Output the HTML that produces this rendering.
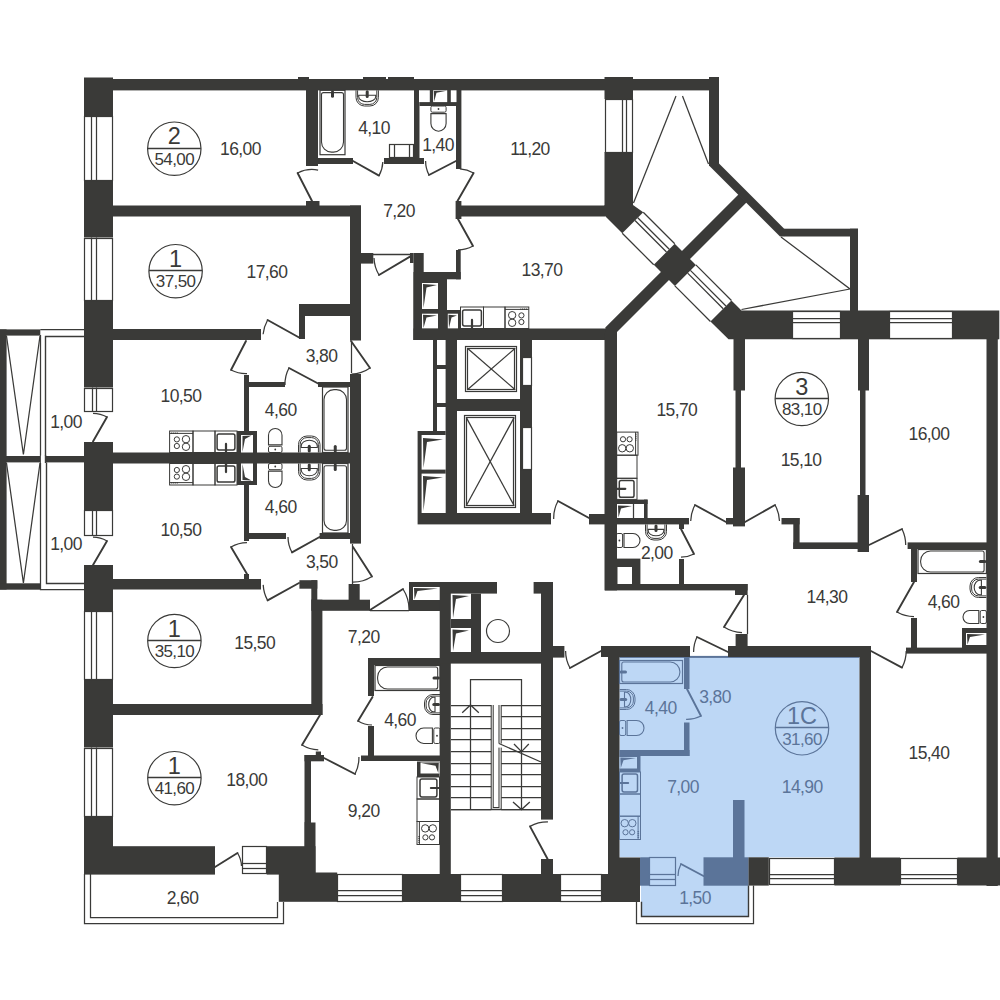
<!DOCTYPE html>
<html><head><meta charset="utf-8"><title>Floor plan</title>
<style>
html,body{margin:0;padding:0;background:#fff;}
body{width:1000px;height:1000px;overflow:hidden;}
svg{display:block;}
text{font-family:"Liberation Sans",sans-serif;}
</style></head><body>
<svg width="1000" height="1000" viewBox="0 0 1000 1000">
<rect width="1000" height="1000" fill="#fff"/>
<rect x="619.5" y="656" width="240" height="201.3" fill="#bdd7f5"/>
<rect x="641" y="857" width="107.4" height="60" fill="#bdd7f5"/>
<rect x="619.5" y="655.9" width="239.9" height="2" fill="#5b7499"/>
<rect x="84" y="77.5" width="29" height="38.5" fill="#3a3a38"/>
<rect x="84" y="180" width="29" height="57.5" fill="#3a3a38"/>
<rect x="84" y="300" width="29" height="87.5" fill="#3a3a38"/>
<rect x="84" y="442" width="29" height="68" fill="#3a3a38"/>
<rect x="84" y="565" width="29" height="46" fill="#3a3a38"/>
<rect x="84" y="679" width="29" height="68.5" fill="#3a3a38"/>
<rect x="84" y="816" width="29" height="58.6" fill="#3a3a38"/>
<rect x="84.5" y="116.5" width="28" height="64" fill="#fff" stroke="#3a3a38" stroke-width="1.2" rx="0"/>
<polyline points="91.5,116 91.5,180" fill="none" stroke="#3a3a38" stroke-width="1.25"/>
<polyline points="96.5,116 96.5,180" fill="none" stroke="#3a3a38" stroke-width="1.25"/>
<rect x="84.5" y="238.5" width="28" height="62" fill="#fff" stroke="#3a3a38" stroke-width="1.2" rx="0"/>
<polyline points="91.5,237.5 91.5,300" fill="none" stroke="#3a3a38" stroke-width="1.25"/>
<polyline points="96.5,237.5 96.5,300" fill="none" stroke="#3a3a38" stroke-width="1.25"/>
<rect x="84.5" y="611.5" width="28" height="68" fill="#fff" stroke="#3a3a38" stroke-width="1.2" rx="0"/>
<polyline points="91.5,611 91.5,679" fill="none" stroke="#3a3a38" stroke-width="1.25"/>
<polyline points="96.5,611 96.5,679" fill="none" stroke="#3a3a38" stroke-width="1.25"/>
<rect x="84.5" y="748.5" width="28" height="68" fill="#fff" stroke="#3a3a38" stroke-width="1.2" rx="0"/>
<polyline points="91.5,747.5 91.5,816" fill="none" stroke="#3a3a38" stroke-width="1.25"/>
<polyline points="96.5,747.5 96.5,816" fill="none" stroke="#3a3a38" stroke-width="1.25"/>
<rect x="84.5" y="388.5" width="28" height="23" fill="#fff" stroke="#3a3a38" stroke-width="1.2" rx="0"/>
<polyline points="92.5,387.5 92.5,411.5" fill="none" stroke="#3a3a38" stroke-width="1.25"/>
<polyline points="96.5,387.5 96.5,411.5" fill="none" stroke="#3a3a38" stroke-width="1.25"/>
<rect x="84.5" y="510.5" width="28" height="25" fill="#fff" stroke="#3a3a38" stroke-width="1.2" rx="0"/>
<polyline points="92.5,510 92.5,535.3" fill="none" stroke="#3a3a38" stroke-width="1.25"/>
<polyline points="96.5,510 96.5,535.3" fill="none" stroke="#3a3a38" stroke-width="1.25"/>
<rect x="113" y="79" width="606" height="11.4" fill="#3a3a38"/>
<rect x="604.5" y="77" width="28.5" height="22" fill="#3a3a38"/>
<rect x="298" y="77" width="11" height="2" fill="#3a3a38"/>
<rect x="363" y="77" width="23" height="2" fill="#3a3a38"/>
<rect x="388" y="77" width="26" height="2" fill="#3a3a38"/>
<rect x="604.5" y="152" width="28.5" height="54" fill="#3a3a38"/>
<rect x="605.5" y="99.5" width="27" height="53" fill="#fff" stroke="#3a3a38" stroke-width="1.2" rx="0"/>
<polyline points="622.5,99 622.5,152" fill="none" stroke="#3a3a38" stroke-width="1.25"/>
<polyline points="626.5,99 626.5,152" fill="none" stroke="#3a3a38" stroke-width="1.25"/>
<rect x="709" y="77" width="10" height="88" fill="#3a3a38"/>
<rect x="113" y="205.5" width="248" height="11" fill="#3a3a38"/>
<rect x="306" y="201" width="13.5" height="5" fill="#3a3a38"/>
<rect x="113" y="329" width="148" height="11" fill="#3a3a38"/>
<rect x="84" y="452.5" width="277" height="11" fill="#3a3a38"/>
<rect x="0" y="456" width="84" height="6.4" fill="#3a3a38"/>
<rect x="113" y="579" width="148" height="10.5" fill="#3a3a38"/>
<rect x="113" y="704" width="209.5" height="11" fill="#3a3a38"/>
<rect x="113" y="846.2" width="102" height="28.4" fill="#3a3a38"/>
<rect x="306" y="90" width="12" height="76" fill="#3a3a38"/>
<rect x="318" y="158" width="35" height="6" fill="#3a3a38"/>
<rect x="384" y="158" width="40" height="6" fill="#3a3a38"/>
<rect x="414" y="90" width="5.5" height="68" fill="#3a3a38"/>
<rect x="456" y="90" width="5.4" height="79" fill="#3a3a38"/>
<rect x="455.6" y="201" width="5.8" height="18" fill="#3a3a38"/>
<rect x="461" y="205.5" width="144" height="11" fill="#3a3a38"/>
<rect x="419.5" y="90" width="37" height="16" fill="#3a3a38"/>
<rect x="419" y="90.3" width="10.8" height="11.8" fill="#fff"/>
<rect x="433.1" y="90.3" width="14.1" height="11.8" fill="#fff"/>
<rect x="450.8" y="90.3" width="5.7" height="11.8" fill="#fff"/>
<polygon points="433.8,91 446.5,90.8 436.5,92.8 434.2,101.5" fill="#3a3a38"/>
<rect x="389.5" y="144.5" width="24" height="13" fill="#fff" stroke="#3a3a38" stroke-width="1.2" rx="0"/>
<polyline points="394.5,144.5 394.5,158" fill="none" stroke="#3a3a38" stroke-width="1.25"/>
<polyline points="409.5,144.5 409.5,158" fill="none" stroke="#3a3a38" stroke-width="1.25"/>
<rect x="350" y="205.5" width="11" height="135" fill="#3a3a38"/>
<rect x="350" y="374" width="11" height="169.6" fill="#3a3a38"/>
<rect x="361" y="253" width="12.3" height="10.6" fill="#3a3a38"/>
<rect x="410" y="253" width="3.5" height="10" fill="#3a3a38"/>
<rect x="413.5" y="253" width="10.2" height="87" fill="#3a3a38"/>
<rect x="423.7" y="272" width="37" height="7.3" fill="#3a3a38"/>
<rect x="456" y="250" width="4.7" height="29.3" fill="#3a3a38"/>
<rect x="413.5" y="272" width="33.5" height="68" fill="#3a3a38"/>
<rect x="422" y="283" width="16" height="26" fill="#fff"/>
<rect x="422" y="313.7" width="16" height="15" fill="#fff"/>
<rect x="447" y="310" width="13.5" height="19" fill="#3a3a38"/>
<rect x="447.8" y="313.7" width="10.2" height="15" fill="#fff"/>
<polygon points="423,284 437,285 426.5,287.5 423.5,308" fill="#3a3a38"/>
<polygon points="423,314.7 437,315.5 426.5,317.5 423.5,328" fill="#3a3a38"/>
<polygon points="448.5,314.7 457,315.5 451.5,317.5 449,328" fill="#3a3a38"/>
<rect x="413.5" y="328.5" width="191.5" height="11.5" fill="#3a3a38"/>
<rect x="299" y="304" width="51" height="12" fill="#3a3a38"/>
<rect x="299" y="304" width="6" height="35" fill="#3a3a38"/>
<rect x="244" y="375" width="5" height="78" fill="#3a3a38"/>
<rect x="244" y="382" width="41" height="5" fill="#3a3a38"/>
<rect x="318" y="382" width="32" height="5" fill="#3a3a38"/>
<rect x="244" y="463" width="5" height="78" fill="#3a3a38"/>
<rect x="244" y="533" width="42" height="6" fill="#3a3a38"/>
<rect x="319.6" y="533" width="30.4" height="6" fill="#3a3a38"/>
<rect x="244" y="574" width="5" height="5" fill="#3a3a38"/>
<rect x="237" y="431" width="20" height="22" fill="#3a3a38"/>
<rect x="241" y="435" width="12" height="17.5" fill="#fff"/>
<polygon points="242.5,436 251.5,435.5 245,439 242.5,452" fill="#3a3a38"/>
<rect x="237" y="463" width="20" height="22" fill="#3a3a38"/>
<rect x="241" y="463.5" width="12" height="17.5" fill="#fff"/>
<polygon points="242.5,480 251.5,480.5 245,477 242.5,464" fill="#3a3a38"/>
<rect x="433" y="340" width="4" height="91" fill="#3a3a38"/>
<rect x="437" y="365" width="9" height="4" fill="#3a3a38"/>
<rect x="437" y="403" width="9" height="4" fill="#3a3a38"/>
<rect x="445.6" y="340" width="11.4" height="173" fill="#3a3a38"/>
<rect x="457" y="399" width="63" height="12" fill="#3a3a38"/>
<rect x="520" y="340" width="12" height="173" fill="#3a3a38"/>
<rect x="522.5" y="357.5" width="9" height="28" fill="#fff" stroke="#3a3a38" stroke-width="1.2" rx="0"/>
<rect x="522.5" y="427.5" width="9" height="42" fill="#fff" stroke="#3a3a38" stroke-width="1.2" rx="0"/>
<rect x="417.6" y="513" width="133.4" height="11.4" fill="#3a3a38"/>
<rect x="417.6" y="431" width="28" height="82" fill="#3a3a38"/>
<rect x="421.6" y="435" width="24" height="34.6" fill="#fff"/>
<rect x="421.6" y="473.6" width="24" height="39.4" fill="#fff"/>
<polygon points="423,438 443,439.5 427,442 423.5,468" fill="#3a3a38"/>
<polygon points="423,476 443,477.5 427,480 423.5,511" fill="#3a3a38"/>
<rect x="465.5" y="346.5" width="51" height="45" fill="#fff" stroke="#3a3a38" stroke-width="1.2" rx="0"/>
<rect x="467.5" y="348.5" width="47" height="41" fill="#fff" stroke="#3a3a38" stroke-width="1.2" rx="0"/>
<polyline points="467.4,348.2 515.2,389.8" fill="none" stroke="#3a3a38" stroke-width="1.25"/>
<polyline points="515.2,348.2 467.4,389.8" fill="none" stroke="#3a3a38" stroke-width="1.25"/>
<rect x="464.5" y="415.5" width="51" height="92" fill="#fff" stroke="#3a3a38" stroke-width="1.2" rx="0"/>
<rect x="466.5" y="417.5" width="47" height="88" fill="#fff" stroke="#3a3a38" stroke-width="1.2" rx="0"/>
<polyline points="466.2,417.4 514.2,505.8" fill="none" stroke="#3a3a38" stroke-width="1.25"/>
<polyline points="514.2,417.4 466.2,505.8" fill="none" stroke="#3a3a38" stroke-width="1.25"/>
<rect x="589" y="514" width="16" height="10.4" fill="#3a3a38"/>
<rect x="604.5" y="329" width="12.5" height="261.4" fill="#3a3a38"/>
<polygon points="605.3,327.6 738.7,194.3 746.7,202.3 617,332 617,340 604.5,340" fill="#3a3a38"/>
<polygon points="719,163.5 784.2,228.7 784.2,236.5 780,236.5 709,165.5 709,163.5" fill="#3a3a38"/>
<rect x="784" y="228.7" width="74" height="7.8" fill="#3a3a38"/>
<rect x="850" y="228.7" width="8" height="83.3" fill="#3a3a38"/>
<polygon points="604.5,205 633,205 643.25,212.25 622.25,233.25 604.5,215.5" fill="#3a3a38"/>
<polygon points="674.75,243.75 695.9,264.9 674.9,285.9 653.75,264.75" fill="#3a3a38"/>
<polygon points="731.45,300.45 741.5,310.5 792,310.5 792,339.3 728.5,339.3 710.45,321.45" fill="#3a3a38"/>
<polyline points="643.25,212.25 674.75,243.75" fill="none" stroke="#3a3a38" stroke-width="1.25"/>
<polyline points="637.75,217.75 669.25,249.25" fill="none" stroke="#3a3a38" stroke-width="1.25"/>
<polyline points="635,220.5 666.5,252" fill="none" stroke="#3a3a38" stroke-width="1.25"/>
<polyline points="622.25,233.25 653.75,264.75" fill="none" stroke="#3a3a38" stroke-width="1.25"/>
<polyline points="695.9,264.9 731.45,300.45" fill="none" stroke="#3a3a38" stroke-width="1.25"/>
<polyline points="690.4,270.4 725.95,305.95" fill="none" stroke="#3a3a38" stroke-width="1.25"/>
<polyline points="687.65,273.15 723.2,308.7" fill="none" stroke="#3a3a38" stroke-width="1.25"/>
<polyline points="674.9,285.9 710.45,321.45" fill="none" stroke="#3a3a38" stroke-width="1.25"/>
<polyline points="633.5,203 676,96" fill="none" stroke="#3a3a38" stroke-width="1.25"/>
<polyline points="682.5,96 708.5,164" fill="none" stroke="#3a3a38" stroke-width="1.25"/>
<polyline points="781,237 850,289 741.5,309.5" fill="none" stroke="#3a3a38" stroke-width="1.25"/>
<rect x="792" y="310.5" width="207.3" height="28.8" fill="#3a3a38"/>
<rect x="792.5" y="311.5" width="48" height="27" fill="#fff" stroke="#3a3a38" stroke-width="1.2" rx="0"/>
<polyline points="792,318.5 841,318.5" fill="none" stroke="#3a3a38" stroke-width="1.25"/>
<polyline points="792,322.5 841,322.5" fill="none" stroke="#3a3a38" stroke-width="1.25"/>
<rect x="889.5" y="311.5" width="63" height="27" fill="#fff" stroke="#3a3a38" stroke-width="1.2" rx="0"/>
<polyline points="889,318.5 953,318.5" fill="none" stroke="#3a3a38" stroke-width="1.25"/>
<polyline points="889,322.5 953,322.5" fill="none" stroke="#3a3a38" stroke-width="1.25"/>
<rect x="986.5" y="339" width="11.3" height="547" fill="#3a3a38"/>
<rect x="733.5" y="339" width="11.5" height="51.5" fill="#3a3a38"/>
<rect x="735.5" y="390" width="5.5" height="78" fill="#3a3a38"/>
<rect x="733" y="467.5" width="12" height="58.9" fill="#3a3a38"/>
<rect x="858" y="339" width="11" height="51.5" fill="#3a3a38"/>
<rect x="860" y="390" width="5.5" height="105.5" fill="#3a3a38"/>
<rect x="857.6" y="495" width="11.4" height="57" fill="#3a3a38"/>
<rect x="726" y="518" width="7" height="6.4" fill="#3a3a38"/>
<rect x="781.5" y="518" width="18.1" height="6.4" fill="#3a3a38"/>
<rect x="793.3" y="518" width="6.3" height="31" fill="#3a3a38"/>
<rect x="793.3" y="542.4" width="64.7" height="6.6" fill="#3a3a38"/>
<rect x="907.6" y="542.4" width="79.4" height="6.6" fill="#3a3a38"/>
<rect x="911" y="549" width="6" height="33" fill="#3a3a38"/>
<rect x="911" y="618" width="6" height="30" fill="#3a3a38"/>
<rect x="906" y="647.6" width="81" height="6" fill="#3a3a38"/>
<rect x="962" y="628" width="25" height="20" fill="#3a3a38"/>
<rect x="966" y="633" width="20.4" height="12" fill="#fff"/>
<polygon points="967,634 985,634.5 970,637 967.5,644.5" fill="#3a3a38"/>
<rect x="616.4" y="518" width="72.6" height="6.4" fill="#3a3a38"/>
<rect x="679" y="524" width="5" height="5" fill="#3a3a38"/>
<rect x="616.4" y="499.6" width="31.2" height="4.4" fill="#3a3a38"/>
<rect x="644" y="499.6" width="3.6" height="18.4" fill="#3a3a38"/>
<polyline points="633.5,504 633.5,518" fill="none" stroke="#3a3a38" stroke-width="1.25"/>
<polygon points="618,505.5 632,506 621,508.5 618.5,517.5" fill="#3a3a38"/>
<rect x="679" y="559" width="5" height="26" fill="#3a3a38"/>
<rect x="616.4" y="558.6" width="24" height="26.4" fill="#3a3a38"/>
<rect x="617.5" y="567" width="14.5" height="17" fill="#fff"/>
<rect x="605" y="584" width="142.6" height="6.4" fill="#3a3a38"/>
<rect x="735" y="584" width="12.6" height="11" fill="#3a3a38"/>
<polyline points="747.5,595 747.5,634" fill="none" stroke="#3a3a38" stroke-width="1.25"/>
<rect x="735.6" y="634" width="12" height="13" fill="#3a3a38"/>
<rect x="601" y="646" width="89" height="11" fill="#3a3a38"/>
<rect x="728" y="646" width="143" height="11" fill="#3a3a38"/>
<rect x="608" y="657" width="11.5" height="217" fill="#3a3a38"/>
<rect x="859.5" y="646" width="11.5" height="212" fill="#3a3a38"/>
<rect x="553" y="646" width="11.4" height="11.6" fill="#3a3a38"/>
<rect x="409" y="582" width="31" height="29" fill="#3a3a38"/>
<rect x="413" y="587" width="27" height="13" fill="#fff"/>
<polygon points="414,588 438,588.5 417.5,591 414.5,599.5" fill="#3a3a38"/>
<rect x="439.7" y="582" width="11.1" height="292" fill="#3a3a38"/>
<rect x="440" y="582" width="57" height="11.6" fill="#3a3a38"/>
<rect x="471" y="593.6" width="10" height="58.4" fill="#3a3a38"/>
<rect x="451" y="619" width="20" height="9" fill="#3a3a38"/>
<polygon points="452.5,595 469,596 456,599 453,618" fill="#3a3a38"/>
<polygon points="452.5,629.5 469,630.5 456,633.5 453,651" fill="#3a3a38"/>
<rect x="440" y="652" width="113" height="11.6" fill="#3a3a38"/>
<rect x="541" y="582" width="12" height="237.6" fill="#3a3a38"/>
<rect x="533.6" y="582" width="19.4" height="11.6" fill="#3a3a38"/>
<rect x="541" y="859" width="12" height="15" fill="#3a3a38"/>
<circle cx="498" cy="631" r="11.5" fill="none" stroke="#3a3a38" stroke-width="1.2"/>
<polyline points="451,705.5 491.2,705.5" fill="none" stroke="#3a3a38" stroke-width="1.25"/>
<polyline points="501.2,705.5 541,705.5" fill="none" stroke="#3a3a38" stroke-width="1.25"/>
<polyline points="451,716.5 491.2,716.5" fill="none" stroke="#3a3a38" stroke-width="1.25"/>
<polyline points="501.2,716.5 541,716.5" fill="none" stroke="#3a3a38" stroke-width="1.25"/>
<polyline points="451,728.5 491.2,728.5" fill="none" stroke="#3a3a38" stroke-width="1.25"/>
<polyline points="501.2,728.5 541,728.5" fill="none" stroke="#3a3a38" stroke-width="1.25"/>
<polyline points="451,739.5 491.2,739.5" fill="none" stroke="#3a3a38" stroke-width="1.25"/>
<polyline points="501.2,739.5 541,739.5" fill="none" stroke="#3a3a38" stroke-width="1.25"/>
<polyline points="451,751.5 491.2,751.5" fill="none" stroke="#3a3a38" stroke-width="1.25"/>
<polyline points="501.2,751.5 541,751.5" fill="none" stroke="#3a3a38" stroke-width="1.25"/>
<polyline points="451,763.5 491.2,763.5" fill="none" stroke="#3a3a38" stroke-width="1.25"/>
<polyline points="501.2,763.5 541,763.5" fill="none" stroke="#3a3a38" stroke-width="1.25"/>
<polyline points="451,774.5 491.2,774.5" fill="none" stroke="#3a3a38" stroke-width="1.25"/>
<polyline points="501.2,774.5 541,774.5" fill="none" stroke="#3a3a38" stroke-width="1.25"/>
<polyline points="451,786.5 491.2,786.5" fill="none" stroke="#3a3a38" stroke-width="1.25"/>
<polyline points="501.2,786.5 541,786.5" fill="none" stroke="#3a3a38" stroke-width="1.25"/>
<polyline points="451,797.5 491.2,797.5" fill="none" stroke="#3a3a38" stroke-width="1.25"/>
<polyline points="501.2,797.5 541,797.5" fill="none" stroke="#3a3a38" stroke-width="1.25"/>
<polyline points="451,809.5 491.2,809.5" fill="none" stroke="#3a3a38" stroke-width="1.25"/>
<polyline points="501.2,809.5 541,809.5" fill="none" stroke="#3a3a38" stroke-width="1.25"/>
<polyline points="451,809.5 541,809.5" fill="none" stroke="#3a3a38" stroke-width="1.25"/>
<polyline points="470.5,809.6 470.5,679.5 521.5,679.5 521.5,809.6" fill="none" stroke="#3a3a38" stroke-width="1.25"/>
<path d="M491.2,705 V809.3 H501.2 V705 M493.2,705 V807.4 H499 V705" fill="none" stroke="#3a3a38" stroke-width="1.05"/>
<rect x="497.5" y="743.6" width="4.7" height="4" fill="#fff"/>
<polyline points="499,743.5 541,762" fill="none" stroke="#3a3a38" stroke-width="1.25"/>
<polyline points="462.2,712.8 470.5,705 478.8,712.8" fill="none" stroke="#3a3a38" stroke-width="1.3"/>
<polyline points="514,744 521.5,751.6 528.8,744" fill="none" stroke="#3a3a38" stroke-width="1.3"/>
<polyline points="513,802 521.5,809.6 529.8,802" fill="none" stroke="#3a3a38" stroke-width="1.3"/>
<rect x="299.4" y="580.2" width="17.9" height="8.5" fill="#3a3a38"/>
<rect x="311.3" y="580.2" width="6" height="19.8" fill="#3a3a38"/>
<rect x="311.3" y="599.7" width="11.1" height="115.3" fill="#3a3a38"/>
<rect x="311.3" y="599.7" width="58.7" height="11.1" fill="#3a3a38"/>
<rect x="348.6" y="584" width="11.1" height="16.5" fill="#3a3a38"/>
<polyline points="370,610.5 409,610.5" fill="none" stroke="#3a3a38" stroke-width="1.25"/>
<rect x="368" y="658" width="72" height="7" fill="#3a3a38"/>
<rect x="368" y="658" width="6" height="38" fill="#3a3a38"/>
<rect x="368" y="726" width="6" height="30" fill="#3a3a38"/>
<rect x="361" y="755.5" width="79" height="5.5" fill="#3a3a38"/>
<rect x="304.5" y="755" width="19.5" height="6.3" fill="#3a3a38"/>
<rect x="315.8" y="751.5" width="5.2" height="4.5" fill="#3a3a38"/>
<rect x="304.5" y="755" width="6.5" height="68" fill="#3a3a38"/>
<rect x="304.3" y="822.5" width="11.2" height="50.5" fill="#3a3a38"/>
<rect x="266.7" y="846.2" width="48.8" height="28.4" fill="#3a3a38"/>
<rect x="278.8" y="872.5" width="58.4" height="29.3" fill="#3a3a38"/>
<rect x="402.5" y="874" width="58" height="28" fill="#3a3a38"/>
<rect x="502.5" y="874" width="57.5" height="28" fill="#3a3a38"/>
<rect x="602" y="874" width="38" height="28" fill="#3a3a38"/>
<rect x="619" y="857.5" width="21" height="44.5" fill="#3a3a38"/>
<rect x="337.5" y="874.5" width="65" height="27" fill="#fff" stroke="#3a3a38" stroke-width="1.2" rx="0"/>
<polyline points="337,890.5 402.5,890.5" fill="none" stroke="#3a3a38" stroke-width="1.25"/>
<polyline points="337,895.5 402.5,895.5" fill="none" stroke="#3a3a38" stroke-width="1.25"/>
<rect x="460.5" y="874.5" width="42" height="27" fill="#fff" stroke="#3a3a38" stroke-width="1.2" rx="0"/>
<polyline points="460.5,890.5 502.5,890.5" fill="none" stroke="#3a3a38" stroke-width="1.25"/>
<polyline points="460.5,895.5 502.5,895.5" fill="none" stroke="#3a3a38" stroke-width="1.25"/>
<rect x="560.5" y="874.5" width="41" height="27" fill="#fff" stroke="#3a3a38" stroke-width="1.2" rx="0"/>
<polyline points="560,890.5 602,890.5" fill="none" stroke="#3a3a38" stroke-width="1.25"/>
<polyline points="560,895.5 602,895.5" fill="none" stroke="#3a3a38" stroke-width="1.25"/>
<rect x="748.3" y="857.3" width="20.5" height="28.3" fill="#3a3a38"/>
<rect x="834.5" y="857.5" width="65.5" height="28" fill="#3a3a38"/>
<rect x="957.5" y="857.5" width="42.5" height="28" fill="#3a3a38"/>
<rect x="769.5" y="858.5" width="65" height="26" fill="#fff" stroke="#3a3a38" stroke-width="1.2" rx="0"/>
<polyline points="769,874.5 834.5,874.5" fill="none" stroke="#3a3a38" stroke-width="1.25"/>
<polyline points="769,878.5 834.5,878.5" fill="none" stroke="#3a3a38" stroke-width="1.25"/>
<rect x="900.5" y="858.5" width="57" height="26" fill="#fff" stroke="#3a3a38" stroke-width="1.2" rx="0"/>
<polyline points="900,874.5 957.5,874.5" fill="none" stroke="#3a3a38" stroke-width="1.25"/>
<polyline points="900,878.5 957.5,878.5" fill="none" stroke="#3a3a38" stroke-width="1.25"/>
<rect x="684" y="657" width="5.5" height="32" fill="#5b7499"/>
<rect x="684" y="722.5" width="5.5" height="33.5" fill="#5b7499"/>
<rect x="619.5" y="750" width="70" height="6" fill="#5b7499"/>
<rect x="640" y="857.3" width="9.6" height="28.4" fill="#5b7499"/>
<rect x="703.5" y="857.3" width="44.8" height="28.4" fill="#5b7499"/>
<rect x="733" y="800" width="11.5" height="58" fill="#5b7499"/>
<rect x="649.5" y="857.5" width="26" height="28" fill="#bdd7f5" stroke="#5b7499" stroke-width="1.2" rx="0"/>
<polyline points="649.5,874.5 676,874.5" fill="none" stroke="#5b7499" stroke-width="1.25"/>
<polyline points="649.5,879.5 676,879.5" fill="none" stroke="#5b7499" stroke-width="1.25"/>
<rect x="0" y="329.4" width="6.6" height="260.1" fill="#3a3a38"/>
<rect x="0" y="329.4" width="40.3" height="6.2" fill="#3a3a38"/>
<rect x="0" y="583.3" width="40.3" height="6.4" fill="#3a3a38"/>
<polyline points="40.5,335 40.5,589.5 84.5,589.5" fill="none" stroke="#3a3a38" stroke-width="1.25"/>
<polyline points="40.3,329.5 84.5,329.5" fill="none" stroke="#3a3a38" stroke-width="1.25"/>
<polyline points="84.5,336.5 45.5,336.5 45.5,456" fill="none" stroke="#3a3a38" stroke-width="1.4"/>
<polyline points="46.5,462.4 46.5,583.5 84.5,583.5" fill="none" stroke="#3a3a38" stroke-width="1.4"/>
<rect x="40.9" y="455.5" width="4.5" height="7.5" fill="#fff"/>
<polyline points="45.5,455 45.5,463" fill="none" stroke="#3a3a38" stroke-width="1.4"/>
<polyline points="6.5,336 23.4,454.5 40,336" fill="none" stroke="#3a3a38" stroke-width="1.25"/>
<polyline points="6.5,463 23.4,583 40,463" fill="none" stroke="#3a3a38" stroke-width="1.25"/>
<polyline points="84.5,874 84.5,923.5 283.5,923.5 283.5,902" fill="none" stroke="#3a3a38" stroke-width="1.25"/>
<polyline points="90.5,874 90.5,917.5 277.5,917.5 277.5,902" fill="none" stroke="#3a3a38" stroke-width="1.25"/>
<polyline points="636.5,901.8 636.5,923.5 753.5,923.5 753.5,885.6" fill="none" stroke="#3a3a38" stroke-width="1.25"/>
<polyline points="641.5,901.8 641.5,916.5 748.5,916.5 748.5,885.6" fill="none" stroke="#3a3a38" stroke-width="1.4"/>
<path d="M93,441.5 L107,417" stroke="#3a3a38" stroke-width="1.9" fill="none" stroke-linecap="round"/>
<path d="M107,417 A28.2,28.2 0 0 0 93.0,413.3" stroke="#3a3a38" stroke-width="1.25" fill="none"/>
<path d="M93,565 L107,541" stroke="#3a3a38" stroke-width="1.9" fill="none" stroke-linecap="round"/>
<path d="M107,541 A27.8,27.8 0 0 0 93.0,537.2" stroke="#3a3a38" stroke-width="1.25" fill="none"/>
<path d="M312,201 L297.6,173" stroke="#3a3a38" stroke-width="1.9" fill="none" stroke-linecap="round"/>
<path d="M297.6,173 A31.5,31.5 0 0 1 318.1,170.1" stroke="#3a3a38" stroke-width="1.25" fill="none"/>
<path d="M353,161 L379,175.6" stroke="#3a3a38" stroke-width="1.9" fill="none" stroke-linecap="round"/>
<path d="M379,175.6 A29.8,29.8 0 0 0 382.8,162.0" stroke="#3a3a38" stroke-width="1.25" fill="none"/>
<path d="M456,161 L429,175" stroke="#3a3a38" stroke-width="1.9" fill="none" stroke-linecap="round"/>
<path d="M429,175 A30.4,30.4 0 0 1 425.6,161.0" stroke="#3a3a38" stroke-width="1.25" fill="none"/>
<path d="M457.5,201 L473.6,173" stroke="#3a3a38" stroke-width="1.9" fill="none" stroke-linecap="round"/>
<path d="M473.6,173 A32.3,32.3 0 0 0 459.9,168.8" stroke="#3a3a38" stroke-width="1.25" fill="none"/>
<path d="M458,219 L473,246" stroke="#3a3a38" stroke-width="1.9" fill="none" stroke-linecap="round"/>
<path d="M473,246 A30.9,30.9 0 0 1 458.0,249.9" stroke="#3a3a38" stroke-width="1.25" fill="none"/>
<polyline points="373,254.5 410,254.5" fill="none" stroke="#3a3a38" stroke-width="1.4"/>
<path d="M410,256.6 L379,275" stroke="#3a3a38" stroke-width="1.9" fill="none" stroke-linecap="round"/>
<path d="M379,275 A36.0,36.0 0 0 1 374.0,258.0" stroke="#3a3a38" stroke-width="1.25" fill="none"/>
<path d="M300,338 L267.6,320" stroke="#3a3a38" stroke-width="1.9" fill="none" stroke-linecap="round"/>
<path d="M267.6,320 A37.1,37.1 0 0 0 263.1,334.2" stroke="#3a3a38" stroke-width="1.25" fill="none"/>
<path d="M246,341 L231,370" stroke="#3a3a38" stroke-width="1.9" fill="none" stroke-linecap="round"/>
<path d="M231,370 A32.6,32.6 0 0 0 247.0,373.6" stroke="#3a3a38" stroke-width="1.25" fill="none"/>
<path d="M319,384 L289,368" stroke="#3a3a38" stroke-width="1.9" fill="none" stroke-linecap="round"/>
<path d="M289,368 A34.0,34.0 0 0 0 285.0,385.0" stroke="#3a3a38" stroke-width="1.25" fill="none"/>
<path d="M351,341 L370,368" stroke="#3a3a38" stroke-width="1.9" fill="none" stroke-linecap="round"/>
<path d="M370,368 A33.0,33.0 0 0 1 351.5,374.0" stroke="#3a3a38" stroke-width="1.25" fill="none"/>
<polyline points="351.5,341 351.5,373" fill="none" stroke="#3a3a38" stroke-width="1.25"/>
<path d="M247,574 L231,547" stroke="#3a3a38" stroke-width="1.9" fill="none" stroke-linecap="round"/>
<path d="M231,547 A31.4,31.4 0 0 1 247.0,542.6" stroke="#3a3a38" stroke-width="1.25" fill="none"/>
<path d="M319.6,537 L292,552.4" stroke="#3a3a38" stroke-width="1.9" fill="none" stroke-linecap="round"/>
<path d="M292,552.4 A31.6,31.6 0 0 1 288.0,537.0" stroke="#3a3a38" stroke-width="1.25" fill="none"/>
<path d="M299,583 L267.6,600.4" stroke="#3a3a38" stroke-width="1.9" fill="none" stroke-linecap="round"/>
<path d="M267.6,600.4 A35.9,35.9 0 0 1 263.2,584.9" stroke="#3a3a38" stroke-width="1.25" fill="none"/>
<polyline points="352.5,544 352.5,584" fill="none" stroke="#3a3a38" stroke-width="1.25"/>
<path d="M353,547 L372,576.4" stroke="#3a3a38" stroke-width="1.9" fill="none" stroke-linecap="round"/>
<path d="M372,576.4 A35.0,35.0 0 0 1 352.0,582.0" stroke="#3a3a38" stroke-width="1.25" fill="none"/>
<path d="M370,610 L403,589" stroke="#3a3a38" stroke-width="1.9" fill="none" stroke-linecap="round"/>
<path d="M403,589 A39.1,39.1 0 0 1 409.1,610.0" stroke="#3a3a38" stroke-width="1.25" fill="none"/>
<path d="M589,518 L558,501" stroke="#3a3a38" stroke-width="1.9" fill="none" stroke-linecap="round"/>
<path d="M558,501 A35.4,35.4 0 0 0 553.7,518.9" stroke="#3a3a38" stroke-width="1.25" fill="none"/>
<path d="M726,522 L695,505" stroke="#3a3a38" stroke-width="1.9" fill="none" stroke-linecap="round"/>
<path d="M695,505 A35.4,35.4 0 0 0 690.7,521.0" stroke="#3a3a38" stroke-width="1.25" fill="none"/>
<path d="M745,522 L775,505" stroke="#3a3a38" stroke-width="1.9" fill="none" stroke-linecap="round"/>
<path d="M775,505 A34.5,34.5 0 0 1 779.5,521.1" stroke="#3a3a38" stroke-width="1.25" fill="none"/>
<path d="M869,545 L902,529" stroke="#3a3a38" stroke-width="1.9" fill="none" stroke-linecap="round"/>
<path d="M902,529 A36.7,36.7 0 0 1 905.7,545.0" stroke="#3a3a38" stroke-width="1.25" fill="none"/>
<path d="M914,582 L897,612" stroke="#3a3a38" stroke-width="1.9" fill="none" stroke-linecap="round"/>
<path d="M897,612 A34.5,34.5 0 0 0 914.0,616.5" stroke="#3a3a38" stroke-width="1.25" fill="none"/>
<path d="M871,651 L902,667.6" stroke="#3a3a38" stroke-width="1.9" fill="none" stroke-linecap="round"/>
<path d="M902,667.6 A35.2,35.2 0 0 0 906.2,651.0" stroke="#3a3a38" stroke-width="1.25" fill="none"/>
<path d="M681,529 L694,554" stroke="#3a3a38" stroke-width="1.9" fill="none" stroke-linecap="round"/>
<path d="M694,554 A28.2,28.2 0 0 1 681.0,557.2" stroke="#3a3a38" stroke-width="1.25" fill="none"/>
<path d="M744,595 L724,627" stroke="#3a3a38" stroke-width="1.9" fill="none" stroke-linecap="round"/>
<path d="M724,627 A37.7,37.7 0 0 0 742.0,632.7" stroke="#3a3a38" stroke-width="1.25" fill="none"/>
<path d="M728,652 L697,637" stroke="#3a3a38" stroke-width="1.9" fill="none" stroke-linecap="round"/>
<path d="M697,637 A34.4,34.4 0 0 0 693.6,652.0" stroke="#3a3a38" stroke-width="1.25" fill="none"/>
<path d="M601,651 L570,668" stroke="#3a3a38" stroke-width="1.9" fill="none" stroke-linecap="round"/>
<path d="M570,668 A35.4,35.4 0 0 1 565.6,651.0" stroke="#3a3a38" stroke-width="1.25" fill="none"/>
<path d="M547.6,859 L530,826.4" stroke="#3a3a38" stroke-width="1.9" fill="none" stroke-linecap="round"/>
<path d="M530,826.4 A37.0,37.0 0 0 1 548.0,822.0" stroke="#3a3a38" stroke-width="1.25" fill="none"/>
<path d="M372.5,697 L358,721" stroke="#3a3a38" stroke-width="1.9" fill="none" stroke-linecap="round"/>
<path d="M358,721 A28.0,28.0 0 0 0 372.0,725.0" stroke="#3a3a38" stroke-width="1.25" fill="none"/>
<path d="M320,715 L302,745" stroke="#3a3a38" stroke-width="1.9" fill="none" stroke-linecap="round"/>
<path d="M302,745 A35.0,35.0 0 0 0 318.3,749.9" stroke="#3a3a38" stroke-width="1.25" fill="none"/>
<path d="M324,758 L355,774" stroke="#3a3a38" stroke-width="1.9" fill="none" stroke-linecap="round"/>
<path d="M355,774 A34.9,34.9 0 0 0 358.9,757.1" stroke="#3a3a38" stroke-width="1.25" fill="none"/>
<path d="M215,867 L237.5,853" stroke="#3a3a38" stroke-width="1.9" fill="none" stroke-linecap="round"/>
<path d="M237.5,853 A26.5,26.5 0 0 1 241.5,866.0" stroke="#3a3a38" stroke-width="1.25" fill="none"/>
<path d="M687,689 L701,716" stroke="#5b7499" stroke-width="1.9" fill="none" stroke-linecap="round"/>
<path d="M701,716 A30.4,30.4 0 0 1 686.1,719.4" stroke="#5b7499" stroke-width="1.25" fill="none"/>
<path d="M703.5,876 L681,864" stroke="#5b7499" stroke-width="1.9" fill="none" stroke-linecap="round"/>
<path d="M681,864 A25.5,25.5 0 0 0 678.0,876.0" stroke="#5b7499" stroke-width="1.25" fill="none"/>
<rect x="242.5" y="846.5" width="24" height="27" fill="#fff" stroke="#3a3a38" stroke-width="1.2" rx="0"/>
<polyline points="242.5,863.5 266.75,863.5" fill="none" stroke="#3a3a38" stroke-width="1.25"/>
<polyline points="242.5,868.5 266.75,868.5" fill="none" stroke="#3a3a38" stroke-width="1.25"/>
<circle cx="174.3" cy="148.7" r="26.7" fill="none" stroke="#3a3a38" stroke-width="1.2"/>
<polyline points="147.7,148.5 200.9,148.5" fill="none" stroke="#3a3a38" stroke-width="1.5"/>
<text x="174.3" y="144.3" font-size="23.5" fill="#3a3a38" text-anchor="middle">2</text>
<text x="174.3" y="164.9" font-size="17" fill="#3a3a38" text-anchor="middle" letter-spacing="-0.6">54,00</text>
<circle cx="175.6" cy="271.2" r="26.7" fill="none" stroke="#3a3a38" stroke-width="1.2"/>
<polyline points="149,270.5 202.2,270.5" fill="none" stroke="#3a3a38" stroke-width="1.5"/>
<text x="175.6" y="266.8" font-size="23.5" fill="#3a3a38" text-anchor="middle">1</text>
<text x="175.6" y="287.4" font-size="17" fill="#3a3a38" text-anchor="middle" letter-spacing="-0.6">37,50</text>
<circle cx="174.4" cy="641" r="26.7" fill="none" stroke="#3a3a38" stroke-width="1.2"/>
<polyline points="147.8,640.5 201,640.5" fill="none" stroke="#3a3a38" stroke-width="1.5"/>
<text x="174.4" y="636.6" font-size="23.5" fill="#3a3a38" text-anchor="middle">1</text>
<text x="174.4" y="657.2" font-size="17" fill="#3a3a38" text-anchor="middle" letter-spacing="-0.6">35,10</text>
<circle cx="174.4" cy="778.2" r="26.7" fill="none" stroke="#3a3a38" stroke-width="1.2"/>
<polyline points="147.8,777.5 201,777.5" fill="none" stroke="#3a3a38" stroke-width="1.5"/>
<text x="174.4" y="773.8" font-size="23.5" fill="#3a3a38" text-anchor="middle">1</text>
<text x="174.4" y="794.4" font-size="17" fill="#3a3a38" text-anchor="middle" letter-spacing="-0.6">41,60</text>
<circle cx="801.8" cy="399" r="26.7" fill="none" stroke="#3a3a38" stroke-width="1.2"/>
<polyline points="775.2,398.5 828.4,398.5" fill="none" stroke="#3a3a38" stroke-width="1.5"/>
<text x="801.8" y="394.6" font-size="23.5" fill="#3a3a38" text-anchor="middle">3</text>
<text x="801.8" y="415.2" font-size="17" fill="#3a3a38" text-anchor="middle" letter-spacing="-0.6">83,10</text>
<circle cx="802" cy="728.3" r="26.7" fill="none" stroke="#5b7499" stroke-width="1.2"/>
<polyline points="775.4,727.5 828.6,727.5" fill="none" stroke="#5b7499" stroke-width="1.5"/>
<text x="802" y="723.9" font-size="23.5" fill="#5b7499" text-anchor="middle">1C</text>
<text x="802" y="744.5" font-size="17" fill="#5b7499" text-anchor="middle" letter-spacing="-0.6">31,60</text>
<text x="240.5" y="154.5" font-size="17.5" fill="#3a3a38" text-anchor="middle" letter-spacing="-0.6">16,00</text>
<text x="374" y="134" font-size="17.5" fill="#3a3a38" text-anchor="middle" letter-spacing="-0.6">4,10</text>
<text x="438" y="151" font-size="17.5" fill="#3a3a38" text-anchor="middle" letter-spacing="-0.6">1,40</text>
<text x="530" y="155" font-size="17.5" fill="#3a3a38" text-anchor="middle" letter-spacing="-0.6">11,20</text>
<text x="399" y="217" font-size="17.5" fill="#3a3a38" text-anchor="middle" letter-spacing="-0.6">7,20</text>
<text x="267" y="278" font-size="17.5" fill="#3a3a38" text-anchor="middle" letter-spacing="-0.6">17,60</text>
<text x="542" y="276" font-size="17.5" fill="#3a3a38" text-anchor="middle" letter-spacing="-0.6">13,70</text>
<text x="321.5" y="361.5" font-size="17.5" fill="#3a3a38" text-anchor="middle" letter-spacing="-0.6">3,80</text>
<text x="181" y="402" font-size="17.5" fill="#3a3a38" text-anchor="middle" letter-spacing="-0.6">10,50</text>
<text x="280.7" y="415.5" font-size="17.5" fill="#3a3a38" text-anchor="middle" letter-spacing="-0.6">4,60</text>
<text x="66" y="428" font-size="17.5" fill="#3a3a38" text-anchor="middle" letter-spacing="-0.6">1,00</text>
<text x="280.7" y="512.5" font-size="17.5" fill="#3a3a38" text-anchor="middle" letter-spacing="-0.6">4,60</text>
<text x="181" y="536" font-size="17.5" fill="#3a3a38" text-anchor="middle" letter-spacing="-0.6">10,50</text>
<text x="66" y="550" font-size="17.5" fill="#3a3a38" text-anchor="middle" letter-spacing="-0.6">1,00</text>
<text x="321.8" y="568" font-size="17.5" fill="#3a3a38" text-anchor="middle" letter-spacing="-0.6">3,50</text>
<text x="676.8" y="415.6" font-size="17.5" fill="#3a3a38" text-anchor="middle" letter-spacing="-0.6">15,70</text>
<text x="801.1" y="465.8" font-size="17.5" fill="#3a3a38" text-anchor="middle" letter-spacing="-0.6">15,10</text>
<text x="929" y="440" font-size="17.5" fill="#3a3a38" text-anchor="middle" letter-spacing="-0.6">16,00</text>
<text x="656.8" y="558.5" font-size="17.5" fill="#3a3a38" text-anchor="middle" letter-spacing="-0.6">2,00</text>
<text x="827" y="603" font-size="17.5" fill="#3a3a38" text-anchor="middle" letter-spacing="-0.6">14,30</text>
<text x="943.5" y="607.5" font-size="17.5" fill="#3a3a38" text-anchor="middle" letter-spacing="-0.6">4,60</text>
<text x="254.7" y="648.5" font-size="17.5" fill="#3a3a38" text-anchor="middle" letter-spacing="-0.6">15,50</text>
<text x="363.7" y="642.5" font-size="17.5" fill="#3a3a38" text-anchor="middle" letter-spacing="-0.6">7,20</text>
<text x="400" y="726" font-size="17.5" fill="#3a3a38" text-anchor="middle" letter-spacing="-0.6">4,60</text>
<text x="246.7" y="785.5" font-size="17.5" fill="#3a3a38" text-anchor="middle" letter-spacing="-0.6">18,00</text>
<text x="363.7" y="817" font-size="17.5" fill="#3a3a38" text-anchor="middle" letter-spacing="-0.6">9,20</text>
<text x="182.5" y="904" font-size="17.5" fill="#3a3a38" text-anchor="middle" letter-spacing="-0.6">2,60</text>
<text x="929" y="759" font-size="17.5" fill="#3a3a38" text-anchor="middle" letter-spacing="-0.6">15,40</text>
<text x="715" y="702.6" font-size="17.5" fill="#5b7499" text-anchor="middle" letter-spacing="-0.6">3,80</text>
<text x="660.7" y="713.6" font-size="17.5" fill="#5b7499" text-anchor="middle" letter-spacing="-0.6">4,40</text>
<text x="683" y="793.2" font-size="17.5" fill="#5b7499" text-anchor="middle" letter-spacing="-0.6">7,00</text>
<text x="802.2" y="793.2" font-size="17.5" fill="#5b7499" text-anchor="middle" letter-spacing="-0.6">14,90</text>
<text x="695" y="904" font-size="17.5" fill="#5b7499" text-anchor="middle" letter-spacing="-0.6">1,50</text>
<g transform="matrix(1,0,0,1,319.5,90.3)" fill="none" stroke="#3a3a38" stroke-width="1"><rect x="0.5" y="0" width="25" height="64.4" stroke-width="1.2"/><path d="M4,2.3 H22 Q24,2.3 24,4.3 V51.800000000000004 A10,10 0 0 1 14,61.800000000000004 H12 A10,10 0 0 1 2,51.800000000000004 V4.3 Q2,2.3 4,2.3 Z" stroke-width="1.1"/><path d="M13.0,1.5 V6" stroke-width="3" stroke-linecap="round"/></g>
<g transform="matrix(1,0,0,1,355.5,90.3)" fill="none" stroke="#3a3a38" stroke-width="1"><path d="M0.5,0 V7.199999999999999 A8.5,8.5 0 0 0 9.0,15.7 H14.399999999999999 A8.5,8.5 0 0 0 22.9,7.199999999999999 V0"/><path d="M2.1,0 V7.199999999999999 A6.9,6.9 0 0 0 9.0,14.1 H14.4 A6.9,6.9 0 0 0 21.299999999999997,7.199999999999999 V0"/><path d="M3.2,5 H20.2 V6.5 A8.5,5.0 0 0 1 3.2,6.5 Z" stroke-width="1.1"/><path d="M11.7,1.5 V6.2" stroke-width="3" stroke-linecap="round"/></g>
<g transform="matrix(1,0,0,1,430.4,106)" fill="none" stroke="#3a3a38" stroke-width="1"><rect x="0.5" y="0" width="15.2" height="6.2" rx="1.5"/><path d="M0.5,7.6 H15.7 V17.6 A7.6,7.6 0 0 1 0.5,17.6 Z" stroke-width="1.1"/><circle cx="8.1" cy="3" r="0.9" fill="#3a3a38" stroke="none"/></g>
<g transform="matrix(1,0,0,-1,268,452.5)" fill="none" stroke="#3a3a38" stroke-width="1"><rect x="0.5" y="0" width="13.5" height="6.2" rx="1.5"/><path d="M0.5,7.6 H14.0 V17.25 A6.75,6.75 0 0 1 0.5,17.25 Z" stroke-width="1.1"/><circle cx="7.25" cy="3" r="0.9" fill="#3a3a38" stroke="none"/></g>
<g transform="matrix(1,0,0,-1,298,452.5)" fill="none" stroke="#3a3a38" stroke-width="1"><path d="M0.5,0 V8.0 A8.5,8.5 0 0 0 9.0,16.5 H13.5 A8.5,8.5 0 0 0 22.0,8.0 V0"/><path d="M2.1,0 V8.0 A6.9,6.9 0 0 0 9.0,14.9 H13.5 A6.9,6.9 0 0 0 20.4,8.0 V0"/><path d="M3.2,5 H19.3 V6.5 A8.05,5.800000000000001 0 0 1 3.2,6.5 Z" stroke-width="1.1"/><path d="M11.25,1.5 V6.2" stroke-width="3" stroke-linecap="round"/></g>
<g transform="matrix(1,0,0,-1,322,452.5)" fill="none" stroke="#3a3a38" stroke-width="1"><rect x="0.5" y="0" width="25.5" height="65.5" stroke-width="1.2"/><path d="M4,2.3 H22.5 Q24.5,2.3 24.5,4.3 V52.9 A10,10 0 0 1 14.5,62.9 H12 A10,10 0 0 1 2,52.9 V4.3 Q2,2.3 4,2.3 Z" stroke-width="1.1"/><path d="M13.25,1.5 V6" stroke-width="3" stroke-linecap="round"/></g>
<g transform="matrix(1,0,0,1,268,463.5)" fill="none" stroke="#3a3a38" stroke-width="1"><rect x="0.5" y="0" width="13.5" height="6.2" rx="1.5"/><path d="M0.5,7.6 H14.0 V17.25 A6.75,6.75 0 0 1 0.5,17.25 Z" stroke-width="1.1"/><circle cx="7.25" cy="3" r="0.9" fill="#3a3a38" stroke="none"/></g>
<g transform="matrix(1,0,0,1,298,463.5)" fill="none" stroke="#3a3a38" stroke-width="1"><path d="M0.5,0 V8.0 A8.5,8.5 0 0 0 9.0,16.5 H13.5 A8.5,8.5 0 0 0 22.0,8.0 V0"/><path d="M2.1,0 V8.0 A6.9,6.9 0 0 0 9.0,14.9 H13.5 A6.9,6.9 0 0 0 20.4,8.0 V0"/><path d="M3.2,5 H19.3 V6.5 A8.05,5.800000000000001 0 0 1 3.2,6.5 Z" stroke-width="1.1"/><path d="M11.25,1.5 V6.2" stroke-width="3" stroke-linecap="round"/></g>
<g transform="matrix(1,0,0,1,322,463.5)" fill="none" stroke="#3a3a38" stroke-width="1"><rect x="0.5" y="0" width="25.5" height="69.5" stroke-width="1.2"/><path d="M4,2.3 H22.5 Q24.5,2.3 24.5,4.3 V56.900000000000006 A10,10 0 0 1 14.5,66.9 H12 A10,10 0 0 1 2,56.900000000000006 V4.3 Q2,2.3 4,2.3 Z" stroke-width="1.1"/><path d="M13.25,1.5 V6" stroke-width="3" stroke-linecap="round"/></g>
<g transform="matrix(1,0,0,-1,169.6,452.5)" fill="none" stroke="#3a3a38" stroke-width="1"><rect x="0" y="0" width="23.4" height="21.5"/><path d="M0,19.1 H23.4"/><path d="M1.6,19.3 H8.4" stroke-width="1.6" stroke-dasharray="1.1,0.9"/><circle cx="7.254" cy="13.1" r="2.6"/><circle cx="7.254" cy="6.5" r="2.6"/><circle cx="16.38" cy="13.3" r="3.7"/><circle cx="16.38" cy="5.699999999999999" r="3.7" /></g>
<g transform="matrix(1,0,0,-1,193,452.5)" fill="none" stroke="#3a3a38" stroke-width="1"><rect x="0" y="0" width="22" height="21.5"/></g>
<g transform="matrix(1,0,0,-1,215,452.5)" fill="none" stroke="#3a3a38" stroke-width="1"><rect x="0" y="0" width="22" height="21.5"/><rect x="2.1" y="2.6" width="17.8" height="15.9" rx="1.8" stroke-width="1.5"/><path d="M11.0,0.8 V8.6" stroke-width="2.2" stroke-linecap="round"/></g>
<g transform="matrix(1,0,0,1,169.6,463.5)" fill="none" stroke="#3a3a38" stroke-width="1"><rect x="0" y="0" width="23.4" height="21.5"/><path d="M0,19.1 H23.4"/><path d="M1.6,19.3 H8.4" stroke-width="1.6" stroke-dasharray="1.1,0.9"/><circle cx="7.254" cy="13.1" r="2.6"/><circle cx="7.254" cy="6.5" r="2.6"/><circle cx="16.38" cy="13.3" r="3.7"/><circle cx="16.38" cy="5.699999999999999" r="3.7" /></g>
<g transform="matrix(1,0,0,1,193,463.5)" fill="none" stroke="#3a3a38" stroke-width="1"><rect x="0" y="0" width="22" height="21.5"/></g>
<g transform="matrix(1,0,0,1,215,463.5)" fill="none" stroke="#3a3a38" stroke-width="1"><rect x="0" y="0" width="22" height="21.5"/><rect x="2.1" y="2.6" width="17.8" height="15.9" rx="1.8" stroke-width="1.5"/><path d="M11.0,0.8 V8.6" stroke-width="2.2" stroke-linecap="round"/></g>
<g transform="matrix(1,0,0,-1,460.5,328.5)" fill="none" stroke="#3a3a38" stroke-width="1"><rect x="0" y="0" width="23" height="21.5"/><rect x="2.1" y="2.6" width="18.8" height="15.9" rx="1.8" stroke-width="1.5"/><path d="M11.5,0.8 V8.6" stroke-width="2.2" stroke-linecap="round"/></g>
<g transform="matrix(1,0,0,-1,483.5,328.5)" fill="none" stroke="#3a3a38" stroke-width="1"><rect x="0" y="0" width="21.5" height="21.5"/></g>
<g transform="matrix(1,0,0,-1,505,328.5)" fill="none" stroke="#3a3a38" stroke-width="1"><rect x="0" y="0" width="23.8" height="21.5"/><path d="M0,19.1 H23.8"/><path d="M22.2,19.3 H15.4" stroke-width="1.6" stroke-dasharray="1.1,0.9"/><circle cx="16.422" cy="13.1" r="2.6"/><circle cx="16.422" cy="6.5" r="2.6"/><circle cx="7.140000000000001" cy="13.3" r="3.7"/><circle cx="7.140000000000001" cy="5.699999999999999" r="3.7" /></g>
<g transform="matrix(0,1,1,0,616.7,432.1)" fill="none" stroke="#3a3a38" stroke-width="1"><rect x="0" y="0" width="23.1" height="21.3"/><path d="M0,18.900000000000002 H23.1"/><path d="M1.6,19.1 H8.4" stroke-width="1.6" stroke-dasharray="1.1,0.9"/><circle cx="7.1610000000000005" cy="12.9" r="2.6"/><circle cx="7.1610000000000005" cy="6.300000000000001" r="2.6"/><circle cx="16.17" cy="13.100000000000001" r="3.7"/><circle cx="16.17" cy="5.5" r="3.7" /></g>
<g transform="matrix(0,1,1,0,616.7,455.2)" fill="none" stroke="#3a3a38" stroke-width="1"><rect x="0" y="0" width="23.1" height="20.3"/></g>
<g transform="matrix(0,1,1,0,616.7,478.3)" fill="none" stroke="#3a3a38" stroke-width="1"><rect x="0" y="0" width="21.1" height="20.3"/><rect x="2.1" y="2.6" width="16.900000000000002" height="14.700000000000001" rx="1.8" stroke-width="1.5"/><path d="M10.55,0.8 V8.6" stroke-width="2.2" stroke-linecap="round"/></g>
<rect x="619.5" y="755.8" width="21" height="16.2" fill="#5b7499"/>
<rect x="619.5" y="757" width="17.5" height="11.5" fill="#bdd7f5"/>
<polygon points="620.3,757.6 636,757.9 623.5,760.2 620.8,768" fill="#5b7499"/>
<g transform="matrix(0,1,1,0,619.5,772)" fill="none" stroke="#5b7499" stroke-width="1"><rect x="0" y="0" width="22" height="21"/><rect x="2.1" y="2.6" width="17.8" height="15.4" rx="1.8" stroke-width="1.5"/><path d="M11.0,0.8 V8.6" stroke-width="2.2" stroke-linecap="round"/></g>
<g transform="matrix(0,1,1,0,619.5,794)" fill="none" stroke="#5b7499" stroke-width="1"><rect x="0" y="0" width="22.2" height="21"/></g>
<g transform="matrix(0,1,1,0,619.5,816.2)" fill="none" stroke="#5b7499" stroke-width="1"><rect x="0" y="0" width="23.3" height="21"/><path d="M0,18.6 H23.3"/><path d="M21.7,18.8 H14.9" stroke-width="1.6" stroke-dasharray="1.1,0.9"/><circle cx="16.077" cy="12.6" r="2.6"/><circle cx="16.077" cy="6.0" r="2.6"/><circle cx="6.990000000000002" cy="12.8" r="3.7"/><circle cx="6.990000000000002" cy="5.199999999999999" r="3.7" /></g>
<rect x="417" y="761.5" width="22.5" height="15.5" fill="#3a3a38"/>
<rect x="420.5" y="762.5" width="19" height="11" fill="#fff"/>
<polygon points="438.8,763 421.5,763.3 435.5,765.8 438.3,773" fill="#3a3a38"/>
<g transform="matrix(0,1,-1,0,439.5,777)" fill="none" stroke="#3a3a38" stroke-width="1"><rect x="0" y="0" width="22" height="22.5"/><rect x="2.1" y="2.6" width="17.8" height="16.9" rx="1.8" stroke-width="1.5"/><path d="M11.0,0.8 V8.6" stroke-width="2.2" stroke-linecap="round"/></g>
<g transform="matrix(0,1,-1,0,439.5,799)" fill="none" stroke="#3a3a38" stroke-width="1"><rect x="0" y="0" width="22.5" height="22.5"/></g>
<g transform="matrix(0,1,-1,0,439.5,821.5)" fill="none" stroke="#3a3a38" stroke-width="1"><rect x="0" y="0" width="23" height="22.5"/><path d="M0,20.1 H23"/><path d="M21.4,20.3 H14.6" stroke-width="1.6" stroke-dasharray="1.1,0.9"/><circle cx="15.870000000000001" cy="14.1" r="2.6"/><circle cx="15.870000000000001" cy="7.5" r="2.6"/><circle cx="6.900000000000002" cy="14.3" r="3.7"/><circle cx="6.900000000000002" cy="6.699999999999999" r="3.7" /></g>
<g transform="matrix(0,1,1,0,616.4,533)" fill="none" stroke="#3a3a38" stroke-width="1"><rect x="0.5" y="0" width="14" height="6.2" rx="1.5"/><path d="M0.5,7.6 H14.5 V16.6 A7.0,7.0 0 0 1 0.5,16.6 Z" stroke-width="1.1"/><circle cx="7.5" cy="3" r="0.9" fill="#3a3a38" stroke="none"/></g>
<g transform="matrix(1,0,0,1,645,524.4)" fill="none" stroke="#3a3a38" stroke-width="1"><path d="M0.5,0 V7.1 A8.5,8.5 0 0 0 9.0,15.6 H13.0 A8.5,8.5 0 0 0 21.5,7.1 V0"/><path d="M2.1,0 V7.1 A6.9,6.9 0 0 0 9.0,14.0 H13.0 A6.9,6.9 0 0 0 19.9,7.1 V0"/><path d="M3.2,5 H18.8 V6.5 A7.8,4.899999999999999 0 0 1 3.2,6.5 Z" stroke-width="1.1"/><path d="M11.0,1.5 V6.2" stroke-width="3" stroke-linecap="round"/></g>
<g transform="matrix(0,1,-1,0,986.4,549)" fill="none" stroke="#3a3a38" stroke-width="1"><rect x="0.5" y="0" width="24" height="68.4" stroke-width="1.2"/><path d="M4,2.3 H21 Q23,2.3 23,4.3 V55.80000000000001 A10,10 0 0 1 13,65.80000000000001 H12 A10,10 0 0 1 2,55.80000000000001 V4.3 Q2,2.3 4,2.3 Z" stroke-width="1.1"/><path d="M12.5,1.5 V6" stroke-width="3" stroke-linecap="round"/></g>
<g transform="matrix(0,1,-1,0,986.4,577)" fill="none" stroke="#3a3a38" stroke-width="1"><path d="M0.5,0 V7.899999999999999 A8.5,8.5 0 0 0 9.0,16.4 H12.0 A8.5,8.5 0 0 0 20.5,7.899999999999999 V0"/><path d="M2.1,0 V7.899999999999999 A6.9,6.9 0 0 0 9.0,14.799999999999999 H12.0 A6.9,6.9 0 0 0 18.9,7.899999999999999 V0"/><path d="M3.2,5 H17.8 V6.5 A7.3,5.699999999999999 0 0 1 3.2,6.5 Z" stroke-width="1.1"/><path d="M10.5,1.5 V6.2" stroke-width="3" stroke-linecap="round"/></g>
<g transform="matrix(0,1,-1,0,986.4,610)" fill="none" stroke="#3a3a38" stroke-width="1"><rect x="0.5" y="0" width="13" height="6.2" rx="1.5"/><path d="M0.5,7.6 H13.5 V16.9 A6.5,6.5 0 0 1 0.5,16.9 Z" stroke-width="1.1"/><circle cx="7.0" cy="3" r="0.9" fill="#3a3a38" stroke="none"/></g>
<g transform="matrix(0,1,-1,0,440,665)" fill="none" stroke="#3a3a38" stroke-width="1"><rect x="0.5" y="0" width="25" height="65" stroke-width="1.2"/><path d="M4,2.3 H22 Q24,2.3 24,4.3 V52.4 A10,10 0 0 1 14,62.4 H12 A10,10 0 0 1 2,52.4 V4.3 Q2,2.3 4,2.3 Z" stroke-width="1.1"/><path d="M13.0,1.5 V6" stroke-width="3" stroke-linecap="round"/></g>
<g transform="matrix(0,1,-1,0,440,694)" fill="none" stroke="#3a3a38" stroke-width="1"><path d="M0.5,0 V7.0 A8.5,8.5 0 0 0 9.0,15.5 H12.0 A8.5,8.5 0 0 0 20.5,7.0 V0"/><path d="M2.1,0 V7.0 A6.9,6.9 0 0 0 9.0,13.9 H12.0 A6.9,6.9 0 0 0 18.9,7.0 V0"/><path d="M3.2,5 H17.8 V6.5 A7.3,4.800000000000001 0 0 1 3.2,6.5 Z" stroke-width="1.1"/><path d="M10.5,1.5 V6.2" stroke-width="3" stroke-linecap="round"/></g>
<g transform="matrix(0,1,-1,0,440,727.5)" fill="none" stroke="#3a3a38" stroke-width="1"><rect x="0.5" y="0" width="15.5" height="6.2" rx="1.5"/><path d="M0.5,7.6 H16.0 V16.25 A7.75,7.75 0 0 1 0.5,16.25 Z" stroke-width="1.1"/><circle cx="8.25" cy="3" r="0.9" fill="#3a3a38" stroke="none"/></g>
<g transform="matrix(0,1,1,0,619.5,660)" fill="none" stroke="#5b7499" stroke-width="1"><rect x="0.5" y="0" width="23" height="63" stroke-width="1.2"/><path d="M4,2.3 H20 Q22,2.3 22,4.3 V50.599999999999994 A9.8,9.8 0 0 1 12.2,60.4 H11.8 A9.8,9.8 0 0 1 2,50.599999999999994 V4.3 Q2,2.3 4,2.3 Z" stroke-width="1.1"/><path d="M12.0,1.5 V6" stroke-width="3" stroke-linecap="round"/></g>
<g transform="matrix(0,1,1,0,619.5,689)" fill="none" stroke="#5b7499" stroke-width="1"><path d="M0.5,0 V7.0 A8.5,8.5 0 0 0 9.0,15.5 H12.0 A8.5,8.5 0 0 0 20.5,7.0 V0"/><path d="M2.1,0 V7.0 A6.9,6.9 0 0 0 9.0,13.9 H12.0 A6.9,6.9 0 0 0 18.9,7.0 V0"/><path d="M3.2,5 H17.8 V6.5 A7.3,4.800000000000001 0 0 1 3.2,6.5 Z" stroke-width="1.1"/><path d="M10.5,1.5 V6.2" stroke-width="3" stroke-linecap="round"/></g>
<g transform="matrix(0,1,1,0,619.5,720)" fill="none" stroke="#5b7499" stroke-width="1"><rect x="0.5" y="0" width="15" height="6.2" rx="1.5"/><path d="M0.5,7.6 H15.5 V17.0 A7.5,7.5 0 0 1 0.5,17.0 Z" stroke-width="1.1"/><circle cx="8.0" cy="3" r="0.9" fill="#5b7499" stroke="none"/></g>
</svg>
</body></html>
